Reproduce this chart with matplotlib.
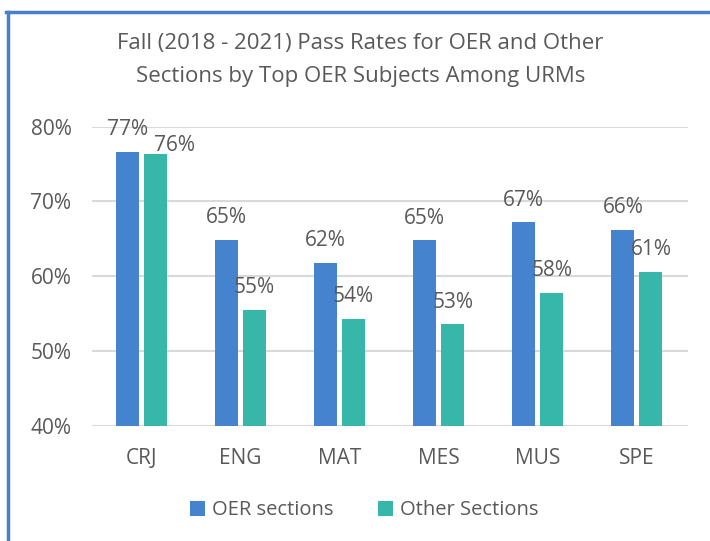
import numpy as np
import matplotlib.pyplot as plt
from matplotlib.lines import Line2D

# pass rates (percent)
subjects = ["CRJ", "ENG", "MAT", "MES", "MUS", "SPE"]
oer_rates = [76.6, 64.9, 61.8, 64.8, 67.2, 66.2]
other_rates = [76.4, 55.5, 54.3, 53.6, 57.8, 60.6]
oer_labels = ["77%", "65%", "62%", "65%", "67%", "66%"]
other_labels = ["76%", "55%", "54%", "53%", "58%", "61%"]
yticks = [40, 50, 60, 70, 80]

blue = "#4583cf"
teal = "#36b7a9"
grey = "#595959"

plt.rcParams['font.family'] = ['Open Sans', 'DejaVu Sans']

fig = plt.figure(figsize=(7.1, 5.41), dpi=100)
ax = fig.add_axes([0.130, 0.2126, 0.839, 0.5534])

x = np.arange(len(subjects))
w = 0.232
off = (w + 0.05) / 2
b1 = ax.bar(x - off, np.array(oer_rates) - 40, w, bottom=40, color=blue, label="OER sections", zorder=3)
b2 = ax.bar(x + off, np.array(other_rates) - 40, w, bottom=40, color=teal, label="Other Sections", zorder=3)

lab_fs = 15
for rect, lab in zip(b1, oer_labels):
    ax.annotate(lab, (rect.get_x() + rect.get_width() / 2, rect.get_height() + 40),
                xytext=(0, 12), textcoords="offset points", ha="center", va="baseline",
                fontsize=lab_fs, color=grey, annotation_clip=False)
for i, (rect, lab) in enumerate(zip(b2, other_labels)):
    # the CRJ label is nudged aside so it does not collide with its neighbour
    dx, dy = (14, 2) if i == 0 else (0, 12)
    ax.annotate(lab, (rect.get_x() + rect.get_width() / 2, rect.get_height() + 40),
                xytext=(dx, dy), textcoords="offset points", ha="center", va="baseline",
                fontsize=lab_fs, color=grey, annotation_clip=False)

ax.set_ylim(40, 80)
ax.set_xlim(-0.495, 5.515)
ax.set_yticks(yticks)
ax.set_yticklabels([f"{t}%" for t in yticks])
ax.set_xticks(x)
ax.set_xticklabels(subjects)
ax.tick_params(axis="both", length=0, labelsize=15, labelcolor=grey)
ax.tick_params(axis="y", pad=15)
ax.tick_params(axis="x", pad=16)
ax.yaxis.grid(True, color="#d9d9d9", linewidth=1.5, zorder=0)
for s in ax.spines.values():
    s.set_visible(False)

fig.text(0.508, 0.889, "Fall (2018 - 2021) Pass Rates for OER and Other\nSections by Top OER Subjects Among URMs",
         ha="center", va="center", fontsize=16, color=grey, linespacing=1.75)

fig.legend(loc="center", bbox_to_anchor=(0.513, 0.057), ncol=2, frameon=False,
           fontsize=14.5, labelcolor=grey, handlelength=0.75, handleheight=0.75,
           handletextpad=0.35, columnspacing=2.2)

# blue frame on top and left edge
fig.add_artist(Line2D([0.008, 1.0], [0.978, 0.978], color="#4a7fcf", linewidth=2.5, transform=fig.transFigure))
fig.add_artist(Line2D([0.011, 0.011], [0.0, 0.978], color="#4a7fcf", linewidth=2.5, transform=fig.transFigure))

fig.savefig("out.png", dpi=100, facecolor="white")
